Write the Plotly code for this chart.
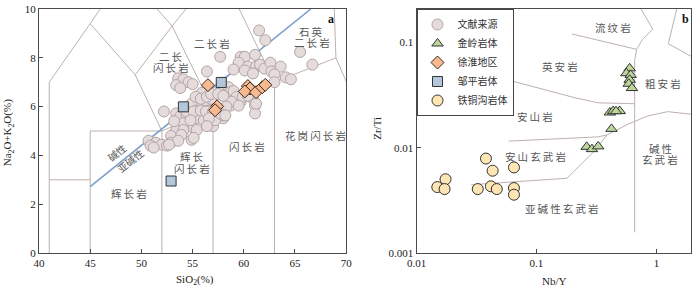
import math
import plotly.graph_objects as go

# ---------------- data: panel a (TAS) ----------------
lit_sio2 = [61.5, 62.1, 57.7, 59.7, 60.1, 61.1, 65.5, 66.7, 56.4, 59.5, 59.0, 60.4, 61.2, 61.6, 62.0, 62.6,
            63.6, 60.1, 60.9, 62.7, 63.0, 64.1, 64.6, 63.0,
            53.6, 54.1, 54.6, 53.4, 53.8, 55.0,
            57.8, 58.5, 55.9, 56.3, 56.8, 58.3, 58.7, 59.2, 59.7, 60.9, 61.1, 54.9, 55.4, 53.4, 53.8, 54.4,
            56.6, 58.7, 61.1, 55.3, 56.1, 58.0, 55.1, 54.1, 57.0, 57.2, 53.4, 54.1, 55.4, 53.2, 54.9,
            59.0, 59.3, 58.8, 59.9, 60.4, 61.2, 59.5, 58.3, 58.0,
            55.3, 55.8, 56.4, 56.8, 57.5, 58.0, 52.2, 54.4, 55.1, 55.8, 56.3, 57.0, 57.7, 58.2,
            53.2, 54.8, 56.6, 56.4, 52.9, 53.9, 55.1, 50.7, 51.4, 52.0, 52.9, 53.6, 50.9, 51.2, 52.5, 52.7]
lit_alk = [9.12, 8.72, 8.04, 8.04, 8.04, 8.12, 8.24, 7.72, 7.44, 7.80, 7.52, 7.64, 7.64, 7.72, 7.56, 7.80,
           7.64, 7.48, 7.36, 7.44, 7.32, 7.20, 7.12, 7.00,
           7.16, 7.12, 7.00, 6.88, 6.76, 6.92,
           6.72, 6.80, 6.56, 6.24, 6.32, 6.48, 6.60, 6.24, 6.20, 6.32, 6.04, 6.12, 5.84, 5.72, 5.60, 5.64,
           5.84, 6.04, 5.72, 5.52, 5.44, 5.52, 5.12, 5.32, 5.20, 5.44, 5.04, 5.04, 5.04, 4.64, 4.64,
           6.64, 6.40, 6.20, 6.40, 6.44, 6.12, 6.04, 6.00, 5.64,
           6.40, 6.32, 6.40, 6.52, 6.52, 6.44, 5.80, 5.80, 5.80, 5.84, 5.80, 5.80, 5.72, 5.64,
           5.40, 5.44, 5.52, 5.20, 4.80, 4.84, 4.72, 4.60, 4.52, 4.44, 4.52, 4.60, 4.40, 4.32, 4.40, 4.44]

xh_sio2 = [56.5, 60.4, 60.6, 60.1, 61.2, 61.8, 62.1, 57.4, 57.2]
xh_alk = [6.88, 6.84, 6.74, 6.62, 6.59, 6.79, 6.89, 6.01, 5.85]

zp_sio2 = [57.8, 54.1, 52.9]
zp_alk = [6.99, 5.99, 2.95]

# TAS (Middlemost 1994) boundary lines
tas_lines = [
    ([41, 41], [0, 7]),
    ([41, 45, 48.4], [7, 9.4, 11.5]),
    ([41, 45], [3, 3]),
    ([45, 45], [0, 5]),
    ([45, 52], [5, 5]),
    ([45, 49.4, 52], [9.4, 7.3, 5]),
    ([52, 52, 57, 63, 69, 77.3], [0, 5, 5.9, 7, 8, 0]),
    ([49.4, 53, 57.6], [7.3, 9.3, 11.7]),
    ([53, 48.4], [9.3, 11.5]),
    ([53, 57], [9.3, 5.9]),
    ([57, 57], [0, 5.9]),
    ([63, 63], [0, 7]),
    ([57.6, 63], [11.7, 7]),
    ([69, 68.8], [8, 10.5]),
]
alk_line_x = [45, 66.55]
alk_line_y = [2.72, 10]

tas_labels = [
    (52.9, 8.04, "二\u2009长"), (52.9, 7.6, "闪\u2009长\u2009岩"),
    (56.9, 8.58, "二\u2009长\u2009岩"),
    (66.6, 9.08, "石\u2009英"), (66.7, 8.62, "二\u2009长\u2009岩"),
    (67.0, 4.82, "花\u2009岗\u2009闪\u2009长\u2009岩"),
    (60.3, 4.36, "闪\u2009长\u2009岩"),
    (54.9, 3.96, "辉\u2009长"), (54.9, 3.48, "闪\u2009长\u2009岩"),
    (48.8, 2.44, "辉\u2009长\u2009岩"),
]

# ---------------- data: panel b (Zr/Ti vs Nb/Y) ----------------
jl_nby = [0.598, 0.562, 0.610, 0.598, 0.588, 0.625, 0.409, 0.436, 0.494, 0.460, 0.422, 0.262, 0.290, 0.327]
jl_zrti = [0.0568, 0.0510, 0.0492, 0.0442, 0.0405, 0.0369, 0.0216, 0.0223, 0.0223, 0.0222, 0.0151, 0.0102, 0.0097, 0.0103]

ttg_nby = [0.0379, 0.0431, 0.0649, 0.01746, 0.0149, 0.01714, 0.0324, 0.0417, 0.0467, 0.0649, 0.0649]
ttg_zrti = [0.00789, 0.00605, 0.0065, 0.00502, 0.00423, 0.00405, 0.00405, 0.0043, 0.00405, 0.00414, 0.00358]

wf_lines = [
    ([0.74, 0.931, 0.766, 0.684, 0.658, 0.658], [0.21, 0.134, 0.1067, 0.086, 0.0679, 0.00157]),
    ([1.48, 1.256, 2.1], [0.21, 0.0972, 0.0705]),
    ([0.197, 0.684], [0.1205, 0.086]),
    ([0.01, 0.210, 0.327, 0.658], [0.075, 0.0298, 0.0267, 0.0262]),
    ([0.0587, 0.325, 0.386], [0.01156, 0.01268, 0.0132]),
    ([0.386, 0.579, 0.847, 1.24, 2.1], [0.0132, 0.01675, 0.02004, 0.02203, 0.0206]),
    ([0.0285, 0.0891, 0.1796, 0.308, 0.386], [0.00445, 0.00484, 0.00513, 0.00944, 0.0132]),
]

wf_labels = [
    (0.433, 0.138, "流\u2009纹\u2009岩"),
    (0.158, 0.0597, "英\u2009安\u2009岩"),
    (1.14, 0.0405, "粗\u2009安\u2009岩"),
    (0.098, 0.0199, "安\u2009山\u2009岩"),
    (0.0983, 0.00834, "安\u2009山\u2009玄\u2009武\u2009岩"),
    (0.1625, 0.00264, "亚\u2009碱\u2009性\u2009玄\u2009武\u2009岩"),
    (1.08, 0.0098, "碱\u2009性"),
    (1.08, 0.0078, "玄\u2009武\u2009岩"),
]

# ---------------- styling ----------------
GRID = "#bdb1ae"
AX = "#4a4a4a"
LBL = "#555555"
SERIF = "Liberation Serif, Noto Sans CJK SC"
CJK = "Noto Sans CJK SC"

fig = go.Figure()

for xs, ys in tas_lines:
    fig.add_trace(go.Scatter(x=xs, y=ys, mode="lines", line=dict(color=GRID, width=1),
                             showlegend=False, hoverinfo="skip", xaxis="x", yaxis="y"))
fig.add_trace(go.Scatter(x=alk_line_x, y=alk_line_y, mode="lines", line=dict(color="#7c9fcc", width=1.6),
                         showlegend=False, hoverinfo="skip", xaxis="x", yaxis="y"))
for xs, ys in wf_lines:
    fig.add_trace(go.Scatter(x=xs, y=ys, mode="lines", line=dict(color=GRID, width=1),
                             showlegend=False, hoverinfo="skip", xaxis="x2", yaxis="y2"))

fig.add_trace(go.Scatter(x=lit_sio2, y=lit_alk, mode="markers", name="文献来源", legendrank=1,
                         marker=dict(symbol="circle", size=11, color="#e6dbdb",
                                     line=dict(color="#b3a4a4", width=1)),
                         xaxis="x", yaxis="y"))
fig.add_trace(go.Scatter(x=jl_nby, y=jl_zrti, mode="markers", name="金岭岩体", legendrank=2,
                         marker=dict(symbol="triangle-up", size=10, color="#bcd59a",
                                     line=dict(color="#333333", width=1)),
                         xaxis="x2", yaxis="y2"))
fig.add_trace(go.Scatter(x=xh_sio2, y=xh_alk, mode="markers", name="徐淮地区", legendrank=3,
                         marker=dict(symbol="diamond", size=10, color="#f7b98f",
                                     line=dict(color="#3a2a20", width=1)),
                         xaxis="x", yaxis="y"))
fig.add_trace(go.Scatter(x=zp_sio2, y=zp_alk, mode="markers", name="邹平岩体", legendrank=4,
                         marker=dict(symbol="square", size=10, color="#b3c6dc",
                                     line=dict(color="#333333", width=1)),
                         xaxis="x", yaxis="y"))
fig.add_trace(go.Scatter(x=ttg_nby, y=ttg_zrti, mode="markers", name="铁铜沟岩体", legendrank=5,
                         marker=dict(symbol="circle", size=11, color="#fde6b4",
                                     line=dict(color="#333333", width=1)),
                         xaxis="x2", yaxis="y2"))

ann = []
for x, y, t in tas_labels:
    ann.append(dict(x=x, y=y, xref="x", yref="y", text=t, showarrow=False,
                    font=dict(family=CJK, size=10.5, color=LBL)))
ann.append(dict(x=47.6, y=4.1, xref="x", yref="y", text="碱性", showarrow=False, textangle=-39,
                font=dict(family=CJK, size=10, color=LBL)))
ann.append(dict(x=48.9, y=3.8, xref="x", yref="y", text="亚碱性", showarrow=False, textangle=-39,
                font=dict(family=CJK, size=10, color=LBL)))
ann.append(dict(x=68.5, y=9.6, xref="x", yref="y", text="<b>a</b>", showarrow=False,
                font=dict(family="Liberation Serif", size=12, color="#111")))
for x, y, t in wf_labels:
    ann.append(dict(x=math.log10(x), y=math.log10(y), xref="x2", yref="y2",
                    text=t, showarrow=False, font=dict(family=CJK, size=10.5, color=LBL)))
ann.append(dict(x=math.log10(1.76), y=math.log10(0.1667), xref="x2", yref="y2",
                text="<b>b</b>", showarrow=False, font=dict(family="Liberation Serif", size=12, color="#111")))

# axis titles
tfont = dict(family=SERIF, size=11, color="#222")
ann += [
    dict(x=-0.0471, y=0.492, xref="paper", yref="paper", text="Na<sub>2</sub>O+K<sub>2</sub>O(%)",
         textangle=-90, showarrow=False, xanchor="center", yanchor="middle", font=tfont),
    dict(x=0.240, y=-0.112, xref="paper", yref="paper", text="SiO<sub>2</sub>(%)",
         showarrow=False, xanchor="center", yanchor="middle", font=tfont),
    dict(x=0.518, y=0.512, xref="paper", yref="paper", text="Zr/Ti", textangle=-90,
         showarrow=False, xanchor="center", yanchor="middle", font=tfont),
    dict(x=0.790, y=-0.116, xref="paper", yref="paper", text="Nb/Y",
         showarrow=False, xanchor="center", yanchor="middle", font=tfont),
]

axcommon = dict(showline=True, mirror=True, linecolor=AX, linewidth=1.3, ticks="inside", ticklen=4,
                tickcolor=AX, showgrid=False, zeroline=False, ticklabeloverflow="allow",
                tickfont=dict(family=SERIF, size=11, color="#222"))

fig.update_layout(
    width=700, height=287,
    margin=dict(l=39, r=3, t=3, b=34),
    paper_bgcolor="white", plot_bgcolor="white",
    xaxis=dict(domain=[0, 0.4711], range=[40, 70], tickvals=[40, 45, 50, 55, 60, 65, 70],
               anchor="y", **axcommon),
    yaxis=dict(domain=[0, 1], range=[0, 10], tickvals=[0, 2, 4, 6, 8, 10], anchor="x", **axcommon),
    xaxis2=dict(domain=[0.579, 1], type="log", range=[-2, 0.288], tickvals=[0.01, 0.1, 1],
                ticktext=["0.01", "0.1", "1"], anchor="y2", **axcommon),
    yaxis2=dict(domain=[0, 1], type="log", range=[-3, -0.682], tickvals=[0.001, 0.01, 0.1],
                ticktext=["0.001", "0.01", "0.1"], anchor="x2", **axcommon),
    legend=dict(x=0.579, y=1, xanchor="left", yanchor="top", bgcolor="white",
                bordercolor="#444", borderwidth=1, font=dict(family=CJK, size=10, color="#333"),
                tracegroupgap=0),
    annotations=ann,
    showlegend=True,
)

fig.write_html("out.html", config={"displayModeBar": False},
               post_script="document.body.style.margin='0';document.body.style.padding='0';")
